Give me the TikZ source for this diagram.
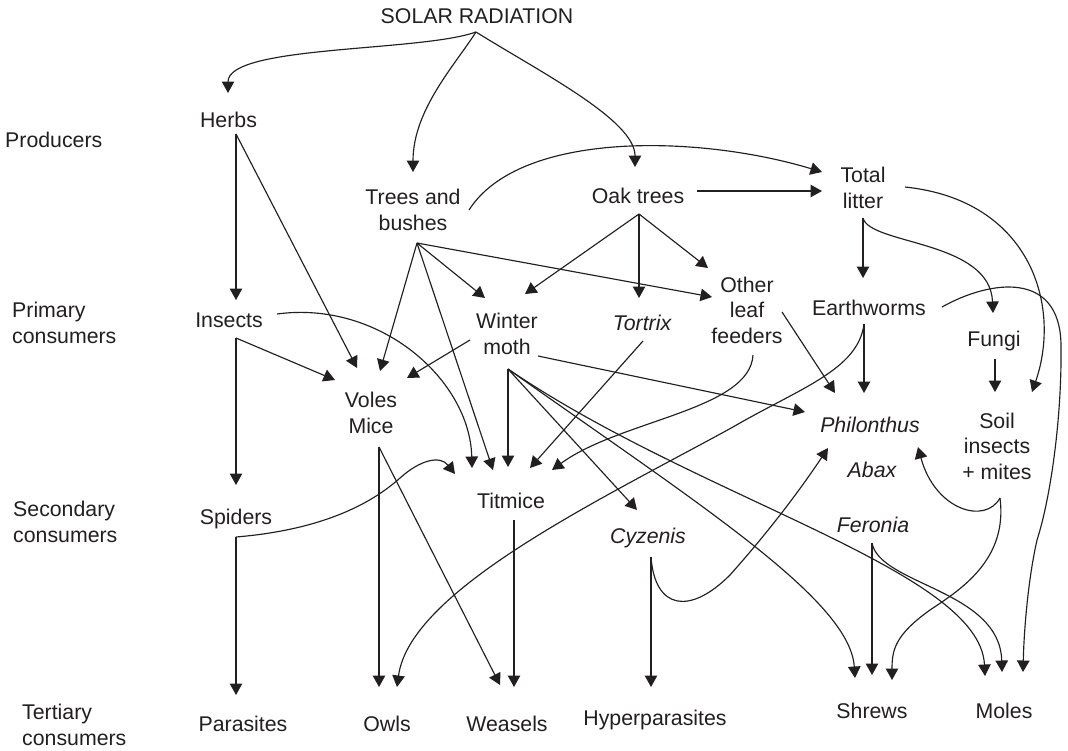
\documentclass[tikz,border=0pt]{standalone}
\usepackage{fontspec}
\setmainfont{Liberation Sans}
\usetikzlibrary{arrows.meta}
\definecolor{ink}{HTML}{231F20}
\newcommand\webfont{\fontsize{21.3}{25.5}\selectfont}
\begin{document}
\begin{tikzpicture}[x=1pt,y=-1pt,
  lbl/.style={font=\webfont, text=ink, anchor=base, align=center, inner sep=0pt},
  sp/.style={lbl, font=\webfont\itshape},
  side/.style={lbl, anchor=base west, align=left},
  feed/.style={draw=ink, line width=1.15pt, -{Triangle[length=11.5pt,width=12.5pt]}},
]
\useasboundingbox (0,0) rectangle (1068,750);
\fill[white] (0,0) rectangle (1068,750);

% trophic level captions (multi-line nodes sit on their last baseline)
\node[side] (lvl1) at (5,147) {Producers};
\node[side] (lvl2) at (12,343) {Primary\\consumers};
\node[side] (lvl3) at (13,542) {Secondary\\consumers};
\node[side] (lvl4) at (22,745) {Tertiary\\consumers};

% organisms
\node[lbl] (solar) at (477,23) {SOLAR RADIATION};
\node[lbl] (herbs) at (228.5,127) {Herbs};
\node[lbl] (trees) at (413,230) {Trees and\\bushes};
\node[lbl] (oak) at (638,203) {Oak trees};
\node[lbl] (litter) at (863,208) {Total\\litter};
\node[lbl] (insects) at (229,327) {Insects};
\node[lbl] (winter) at (507,354) {Winter\\moth};
\node[sp]  (tortrix) at (642,330) {Tortrix};
\node[lbl] (leaf) at (747,343) {Other\\leaf\\feeders};
\node[lbl] (worms) at (869,315) {Earthworms};
\node[lbl] (fungi) at (994,346) {Fungi};
\node[lbl] (voles) at (371,433) {Voles\\Mice};
\node[sp]  (phil) at (870,432) {Philonthus};
\node[sp]  (abax) at (872,477) {Abax};
\node[lbl] (soil) at (997,479) {Soil\\insects\\+ mites};
\node[lbl] (spiders) at (236,524) {Spiders};
\node[lbl] (tit) at (511,508) {Titmice};
\node[sp]  (cyz) at (648,543) {Cyzenis};
\node[sp]  (fer) at (873,532) {Feronia};
\node[lbl] (parasites) at (243,731) {Parasites};
\node[lbl] (owls) at (387,731) {Owls};
\node[lbl] (weasels) at (507,731) {Weasels};
\node[lbl] (hyper) at (655,725) {Hyperparasites};
\node[lbl] (shrews) at (872,718) {Shrews};
\node[lbl] (moles) at (1004,718) {Moles};

% connector ports
\coordinate (solar-s) at (476,32);
\coordinate (herbs-n) at (228,93);
\coordinate (herbs-s) at (236,134);
\coordinate (trees-n) at (413,172);
\coordinate (trees-e) at (469,210);
\coordinate (trees-s) at (417,243);
\coordinate (oak-n) at (635,167);
\coordinate (oak-e) at (697,191);
\coordinate (oak-s) at (639,214);
\coordinate (litter-nw) at (822,172);
\coordinate (litter-w) at (822,191);
\coordinate (litter-e) at (905,187);
\coordinate (litter-s) at (863,218);
\coordinate (insects-n) at (236,300);
\coordinate (insects-e) at (277,314);
\coordinate (insects-s) at (236,338);
\coordinate (winter-nw) at (485,298);
\coordinate (winter-ne) at (525,294);
\coordinate (winter-w) at (470,340);
\coordinate (winter-e) at (538,356);
\coordinate (winter-s) at (508,369);
\coordinate (tortrix-n) at (639,298);
\coordinate (tortrix-s) at (643,341);
\coordinate (leaf-nw) at (708,268);
\coordinate (leaf-w) at (712,297);
\coordinate (leaf-e) at (782,312);
\coordinate (leaf-s) at (753,355);
\coordinate (worms-n) at (863,278);
\coordinate (worms-e) at (942,307);
\coordinate (worms-s) at (864,324);
\coordinate (fungi-n) at (993,313);
\coordinate (fungi-s) at (995,359);
\coordinate (voles-n1) at (357,368);
\coordinate (voles-n2) at (380,371);
\coordinate (voles-w) at (335,380);
\coordinate (voles-e) at (407,378);
\coordinate (voles-s) at (379,447);
\coordinate (phil-w) at (805,412);
\coordinate (phil-n1) at (835,393);
\coordinate (phil-n2) at (864,393);
\coordinate (phil-sw) at (828,448);
\coordinate (phil-se) at (918,447);
\coordinate (soil-n) at (995,392);
\coordinate (soil-ne) at (1032,392);
\coordinate (soil-s) at (1000,498);
\coordinate (spiders-n) at (236,485);
\coordinate (spiders-s) at (236,537);
\coordinate (tit-n1) at (472,468);
\coordinate (tit-n2) at (493,470);
\coordinate (tit-n3) at (508,467);
\coordinate (tit-n4) at (530,468);
\coordinate (tit-n5) at (552,470);
\coordinate (tit-w) at (455,474);
\coordinate (tit-s) at (514,520);
\coordinate (cyz-n) at (637,510);
\coordinate (cyz-s) at (651,557);
\coordinate (fer-s) at (872,543);
\coordinate (parasites-n) at (236,695);
\coordinate (owls-n1) at (379,687);
\coordinate (owls-n2) at (397,687);
\coordinate (weasels-n1) at (500,685);
\coordinate (weasels-n2) at (514,687);
\coordinate (hyper-n) at (651,687);
\coordinate (shrews-n1) at (855,678);
\coordinate (shrews-n2) at (872,675);
\coordinate (shrews-n3) at (892,680);
\coordinate (moles-n1) at (985,676);
\coordinate (moles-n2) at (1002,672);
\coordinate (moles-n3) at (1023,672);

% solar input
\draw[feed] (solar-s) .. controls (420,52) and (228,45) .. (herbs-n);
\draw[feed] (solar-s) .. controls (455,65) and (413,110) .. (trees-n);
\draw[feed] (solar-s) .. controls (540,72) and (635,120) .. (oak-n);

% producers
\draw[feed] (trees-e) .. controls (520,130) and (700,135) .. (litter-nw);
\draw[feed] (oak-e) -- (litter-w);
\draw[feed] (herbs-s) -- (insects-n);
\draw[feed] (herbs-s) -- (voles-n1);
\draw[feed] (trees-s) -- (voles-n2);
\draw[feed] (trees-s) -- (winter-nw);
\draw[feed] (trees-s) -- (tit-n2);
\draw[feed] (trees-s) -- (leaf-w);
\draw[feed] (oak-s) -- (winter-ne);
\draw[feed] (oak-s) -- (tortrix-n);
\draw[feed] (oak-s) -- (leaf-nw);

% litter chain
\draw[feed] (litter-e) .. controls (1030,200) and (1062,305) .. (soil-ne);
\draw[feed] (litter-s) -- (worms-n);
\draw[feed] (litter-s) .. controls (870,245) and (990,240) .. (fungi-n);
\draw[feed] (fungi-s) -- (soil-n);

% primary consumers
\draw[feed] (insects-s) -- (spiders-n);
\draw[feed] (insects-s) -- (voles-w);
\draw[feed] (insects-e) .. controls (380,300) and (470,380) .. (tit-n1);
\draw[feed] (winter-w) -- (voles-e);
\draw[feed] (winter-s) -- (tit-n3);
\draw[feed] (winter-s) -- (cyz-n);
\draw[feed] (winter-s) .. controls (700,505) and (850,600) .. (shrews-n1);
\draw[feed] (winter-s) .. controls (700,500) and (980,570) .. (moles-n1);
\draw[feed] (winter-e) -- (phil-w);
\draw[feed] (tortrix-s) -- (tit-n4);
\draw[feed] (leaf-s) .. controls (750,410) and (620,420) .. (tit-n5);
\draw[feed] (leaf-e) -- (phil-n1);
\draw[feed] (worms-s) -- (phil-n2);
\draw[feed] (worms-s) .. controls (858,370) and (800,388) .. (733,427)
                      .. controls (600,500) and (410,590) .. (owls-n2);
\draw[feed] (worms-e) .. controls (990,280) and (1060,270) .. (1061,345)
                      .. controls (1062,420) and (1050,500) .. (1037,540)
                      .. controls (1028,580) and (1024,630) .. (moles-n3);
\draw[feed] (soil-s) .. controls (985,525) and (935,510) .. (phil-se);
\draw[feed] (soil-s) .. controls (1008,560) and (960,590) .. (930,610)
                     .. controls (895,635) and (892,650) .. (shrews-n3);

% secondary consumers
\draw[feed] (fer-s) -- (shrews-n2);
\draw[feed] (fer-s) .. controls (880,585) and (1000,590) .. (moles-n2);
\draw[feed] (cyz-s) -- (hyper-n);
\draw[feed] (cyz-s) .. controls (655,610) and (690,615) .. (730,575)
                    .. controls (770,530) and (800,490) .. (phil-sw);
\draw[feed] (spiders-s) -- (parasites-n);
\draw[feed] (spiders-s) .. controls (320,530) and (370,505) .. (400,478)
                        .. controls (420,460) and (440,455) .. (tit-w);
\draw[feed] (voles-s) -- (owls-n1);
\draw[feed] (voles-s) -- (weasels-n1);
\draw[feed] (tit-s) -- (weasels-n2);
\end{tikzpicture}
\end{document}
